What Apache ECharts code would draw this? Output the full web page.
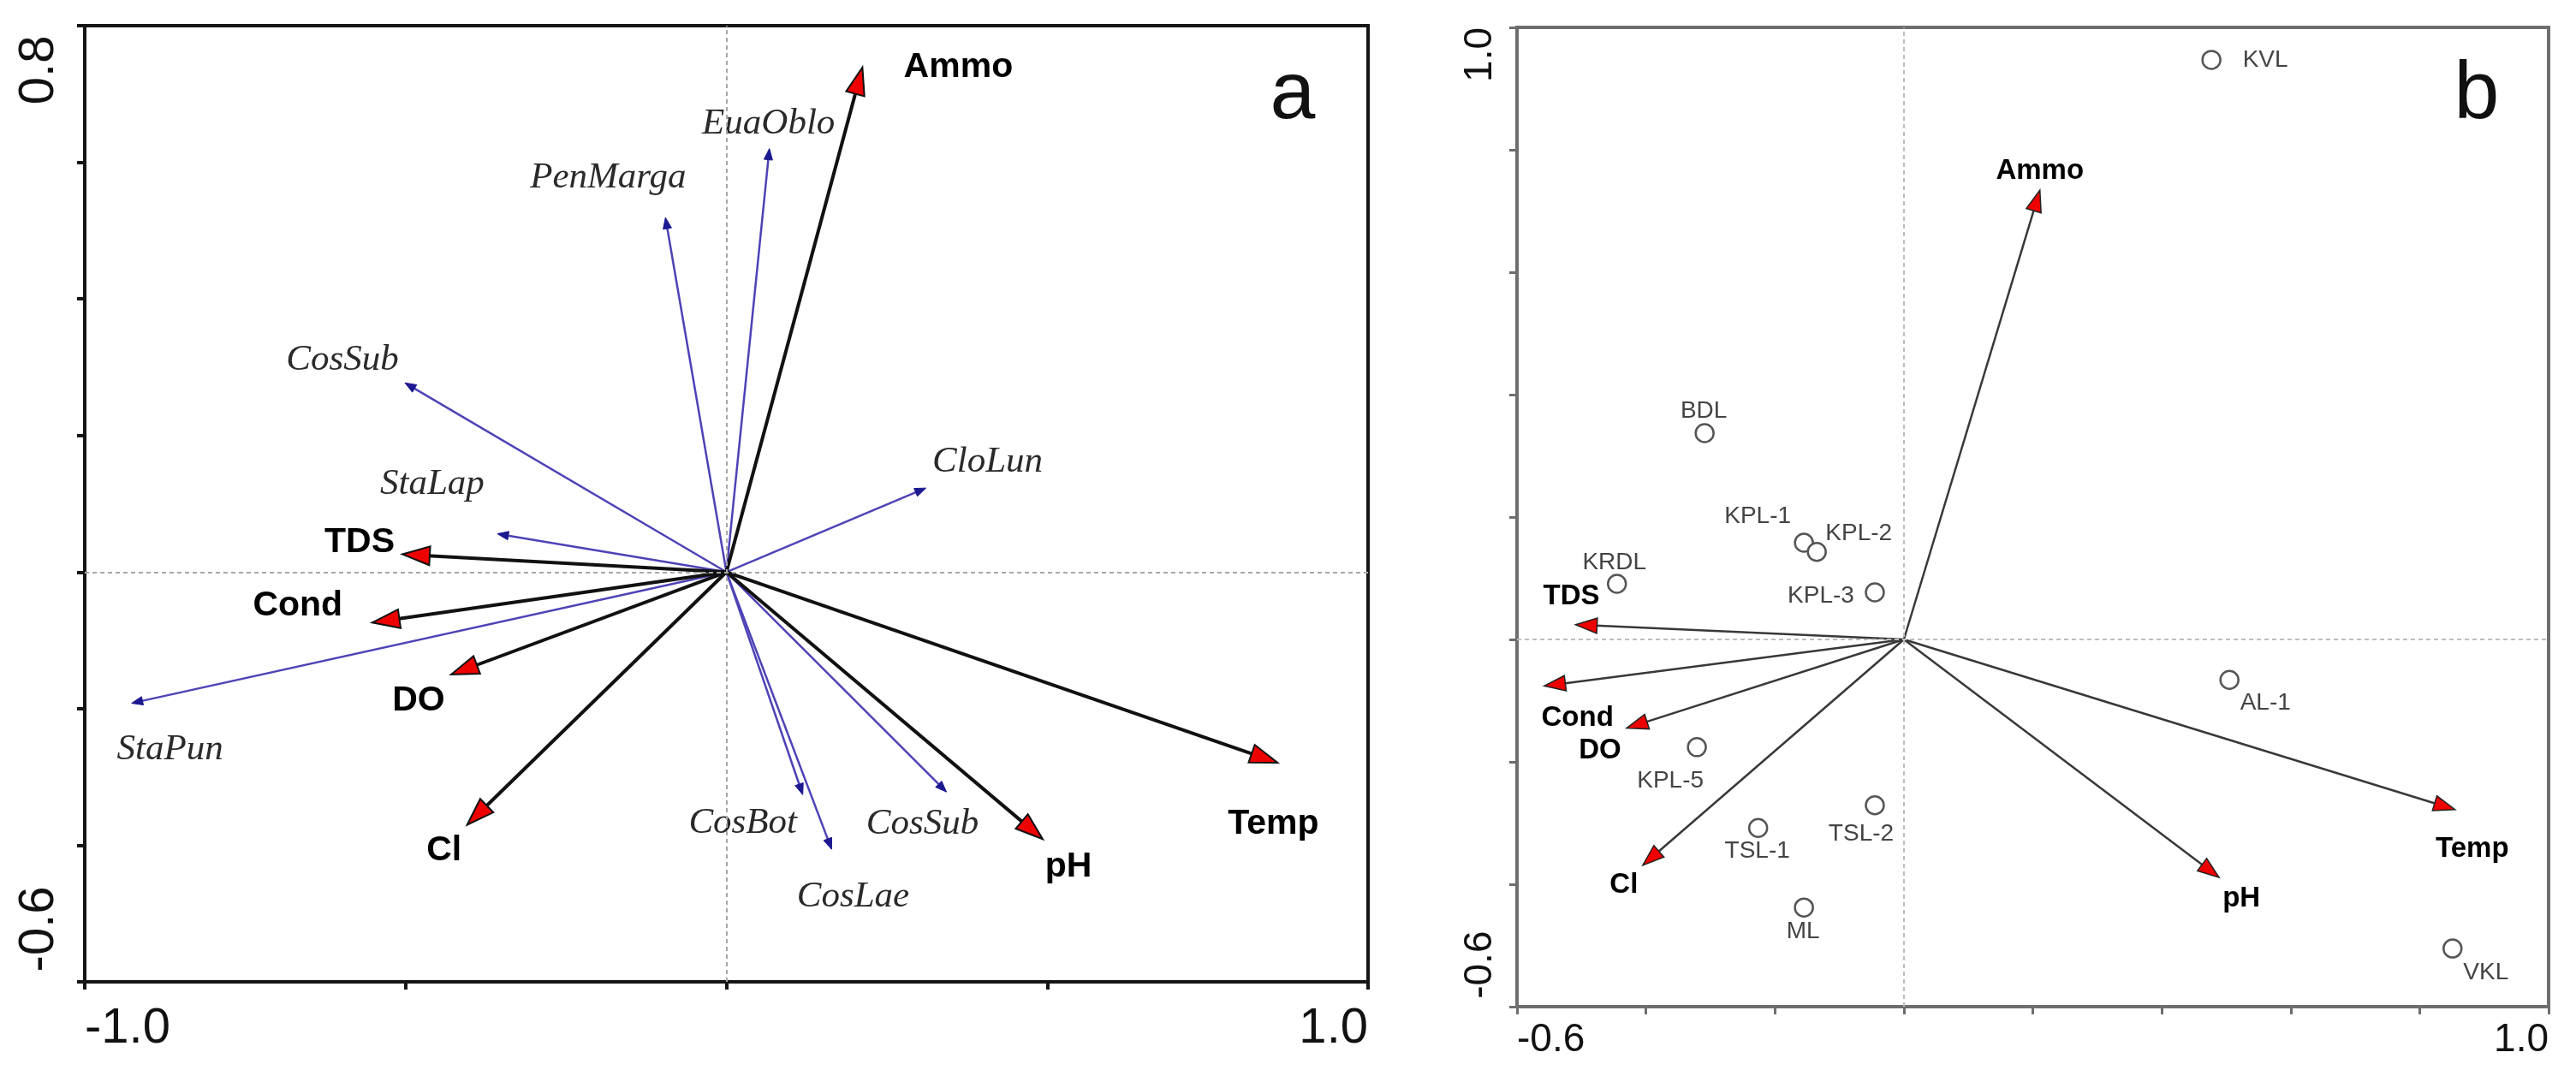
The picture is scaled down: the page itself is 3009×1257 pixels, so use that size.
<!DOCTYPE html>
<html>
<head>
<meta charset="utf-8">
<script src="https://cdn.jsdelivr.net/npm/echarts@6/dist/echarts.min.js"></script>
<style>html,body{margin:0;padding:0;background:#fff;}#c{width:3009px;height:1257px;}</style>
</head>
<body>
<div id="c"></div>
<script>
// ---------- Panel a: environmental variables (biplot arrows) ----------
const envNamesA = ['Ammo', 'TDS', 'Cond', 'DO', 'Cl', 'pH', 'Temp'];
const envXA = [0.212, -0.505, -0.552, -0.429, -0.404, 0.493, 0.859];
const envYA = [0.739, 0.026, -0.074, -0.150, -0.370, -0.391, -0.279];

// ---------- Panel a: species arrows ----------
const spNamesA = ['PenMarga', 'EuaOblo', 'CosSub', 'StaLap', 'CloLun', 'StaPun', 'CosBot', 'CosLae', 'CosSub'];
const spXA = [-0.095, 0.067, -0.501, -0.357, 0.311, -0.927, 0.119, 0.164, 0.343];
const spYA = [0.519, 0.620, 0.277, 0.056, 0.123, -0.192, -0.326, -0.406, -0.322];

// ---------- Panel b: environmental variables ----------
const envNamesB = ['Ammo', 'TDS', 'Cond', 'DO', 'Cl', 'pH', 'Temp'];
const envXB = [0.211, -0.509, -0.558, -0.430, -0.405, 0.489, 0.855];
const envYB = [0.734, 0.024, -0.076, -0.145, -0.369, -0.389, -0.278];

// ---------- Panel b: sites ----------
const siteNames = ['KVL', 'BDL', 'KPL-1', 'KPL-2', 'KPL-3', 'KRDL', 'AL-1', 'KPL-5', 'TSL-1', 'TSL-2', 'ML', 'VKL'];
const siteX = [0.477, -0.309, -0.155, -0.135, -0.045, -0.445, 0.505, -0.321, -0.226, -0.045, -0.155, 0.851];
const siteY = [0.947, 0.337, 0.158, 0.143, 0.077, 0.091, -0.066, -0.176, -0.308, -0.271, -0.438, -0.505];

// ---------- Axis ranges / tick labels ----------
const axisA = { xMin: -1.0, xMax: 1.0, xStep: 0.5, yMin: -0.6, yMax: 0.8, yStep: 0.2 };
const axisB = { xMin: -0.6, xMax: 1.0, xStep: 0.2, yMin: -0.6, yMax: 1.0, yStep: 0.2 };

// ---------- Layout (label offsets in px, relative to arrow tip / point) ----------
const envOffA = [[112, 0], [-50, -14], [-87, -20], [-38, 31], [-27, 30], [30, 32], [-5, 72]];
const spOffA = [[-67, -46], [-1, -29], [-73, -27], [-76, -58], [72, -30], [45, 54], [-70, 33], [25, 55], [-28, 38]];
const envOffB = [[0, -22], [-5, -33], [39, 38], [-31, 26], [-22, 23], [26, 25], [20, 46]];
const siteOff = [[63, 0], [-1, -26], [-54, -31], [49, -21], [-63, 4], [-3, -25], [42, 27], [-31, 39], [-1, 27], [-16, 34], [-1, 28], [39, 28]];

const SANS = '"Liberation Sans", Arial, sans-serif';
const SERIF = '"Liberation Serif", "Times New Roman", serif';

function arrowSeries(names, xs, ys, offs, cfg, gi) {
  return {
    type: 'custom',
    xAxisIndex: gi, yAxisIndex: gi,
    coordinateSystem: 'cartesian2d',
    clip: false,
    z: cfg.z,
    silent: true,
    data: xs.map((x, i) => [x, ys[i]]),
    encode: { x: 0, y: 1 },
    renderItem: function (params, api) {
      const o = api.coord([0, 0]);
      const t = api.coord([api.value(0), api.value(1)]);
      const dx = t[0] - o[0], dy = t[1] - o[1];
      const len = Math.sqrt(dx * dx + dy * dy);
      const ux = dx / len, uy = dy / len;
      const bx = t[0] - ux * cfg.headLen, by = t[1] - uy * cfg.headLen;
      const px = -uy, py = ux;
      const i = params.dataIndex;
      const off = offs[i];
      return {
        type: 'group',
        children: [
          { type: 'line', shape: { x1: o[0], y1: o[1], x2: bx + ux * 2, y2: by + uy * 2 },
            style: { stroke: cfg.lineColor, lineWidth: cfg.lineWidth } },
          { type: 'polygon', shape: { points: [[t[0], t[1]], [bx + px * cfg.headW, by + py * cfg.headW], [bx - px * cfg.headW, by - py * cfg.headW]] },
            style: { fill: cfg.headFill, stroke: cfg.headStroke, lineWidth: cfg.headStrokeW, lineJoin: 'miter' } },
          { type: 'text', x: t[0] + off[0], y: t[1] + off[1],
            style: { text: names[i], fill: cfg.textColor, font: cfg.font, align: 'center', verticalAlign: 'middle' } }
        ]
      };
    }
  };
}

function endLabel(min, max, padMin, padMax) {
  return function (v) {
    if (Math.abs(v - min) < 1e-6) return padMin + v.toFixed(1);
    if (Math.abs(v - max) < 1e-6) return v.toFixed(1) + padMax;
    return '';
  };
}

function makeX(ax, gi, color, fs, margin, tickW) {
  return {
    type: 'value', gridIndex: gi, min: ax.xMin, max: ax.xMax, interval: ax.xStep,
    axisLine: { show: true, onZero: false, lineStyle: { color: color, width: tickW } },
    axisTick: { show: true, length: 9, lineStyle: { color: color, width: tickW } },
    splitLine: { show: false },
    axisLabel: { show: true, formatter: endLabel(ax.xMin, ax.xMax, '', ''), color: '#111', fontSize: fs, fontFamily: SANS,
      margin: margin, alignMinLabel: 'left', alignMaxLabel: 'right', showMinLabel: true, showMaxLabel: true, hideOverlap: false }
  };
}
function makeY(ax, gi, color, fs, margin, tickW, padMin, padMax) {
  return {
    type: 'value', gridIndex: gi, min: ax.yMin, max: ax.yMax, interval: ax.yStep,
    axisLine: { show: true, onZero: false, lineStyle: { color: color, width: tickW } },
    axisTick: { show: true, length: 9, lineStyle: { color: color, width: tickW } },
    splitLine: { show: false },
    axisLabel: { show: true, rotate: 90, formatter: endLabel(ax.yMin, ax.yMax, padMin, padMax), color: '#111', fontSize: fs, fontFamily: SANS,
      margin: margin, alignMinLabel: 'left', alignMaxLabel: 'right', showMinLabel: true, showMaxLabel: true, hideOverlap: false }
  };
}

function zeroLines(gi, color) {
  return {
    type: 'line', xAxisIndex: gi, yAxisIndex: gi, data: [], z: 1, silent: true,
    markLine: { silent: true, symbol: 'none', animation: false, label: { show: false },
      lineStyle: { color: color, width: 2, type: [5, 4] },
      data: [{ xAxis: 0 }, { yAxis: 0 }] }
  };
}

const chart = echarts.init(document.getElementById('c'), null, { renderer: 'canvas' });
const option = {
  animation: false,
  backgroundColor: '#fff',
  grid: [
    { left: 99, top: 30, width: 1499, height: 1117, show: true, borderColor: '#151515', borderWidth: 4 },
    { left: 1772, top: 32, width: 1205, height: 1144, show: true, borderColor: '#6e6e6e', borderWidth: 4 }
  ],
  xAxis: [makeX(axisA, 0, '#151515', 58, 26, 4), makeX(axisB, 1, '#6e6e6e', 46, 16, 3)],
  yAxis: [makeY(axisA, 0, '#151515', 58, 24, 4, '\u2009', '\u2009'), makeY(axisB, 1, '#6e6e6e', 46, 20, 3, '\u2009', '')],
  graphic: [
    { type: 'text', x: 1510, y: 112, style: { text: 'a', font: '95px ' + SANS, fill: '#111', align: 'center', verticalAlign: 'middle' } },
    { type: 'text', x: 2893, y: 112, style: { text: 'b', font: '95px ' + SANS, fill: '#111', align: 'center', verticalAlign: 'middle' } }
  ],
  series: [
    zeroLines(0, '#a8a8a8'),
    zeroLines(1, '#bdbdbd'),
    arrowSeries(spNamesA, spXA, spYA, spOffA, {
      z: 3, headLen: 13, headW: 5, lineColor: '#4d43b6', lineWidth: 2.5, headFill: '#1c1890', headStroke: '#1c1890', headStrokeW: 1,
      textColor: '#2a2a2a', font: 'italic 43px ' + SERIF }, 0),
    arrowSeries(envNamesA, envXA, envYA, envOffA, {
      z: 4, headLen: 32, headW: 11, lineColor: '#111', lineWidth: 4, headFill: '#ee0000', headStroke: '#111', headStrokeW: 2,
      textColor: '#000', font: 'bold 41px ' + SANS }, 0),
    arrowSeries(envNamesB, envXB, envYB, envOffB, {
      z: 4, headLen: 25, headW: 9, lineColor: '#383838', lineWidth: 2.5, headFill: '#ee0000', headStroke: '#222', headStrokeW: 1.5,
      textColor: '#000', font: 'bold 33px ' + SANS }, 1),
    {
      type: 'scatter', xAxisIndex: 1, yAxisIndex: 1, z: 5, silent: true,
      symbol: 'circle', symbolSize: 21,
      itemStyle: { color: '#fff', borderColor: '#555', borderWidth: 2.5, opacity: 1 },
      label: { show: true, position: 'inside', color: '#444', fontSize: 28, fontFamily: SANS, formatter: p => p.name },
      data: siteNames.map((n, i) => ({ name: n, value: [siteX[i], siteY[i]], label: { offset: siteOff[i] } }))
    }
  ]
};
chart.setOption(option);
</script>
</body>
</html>
